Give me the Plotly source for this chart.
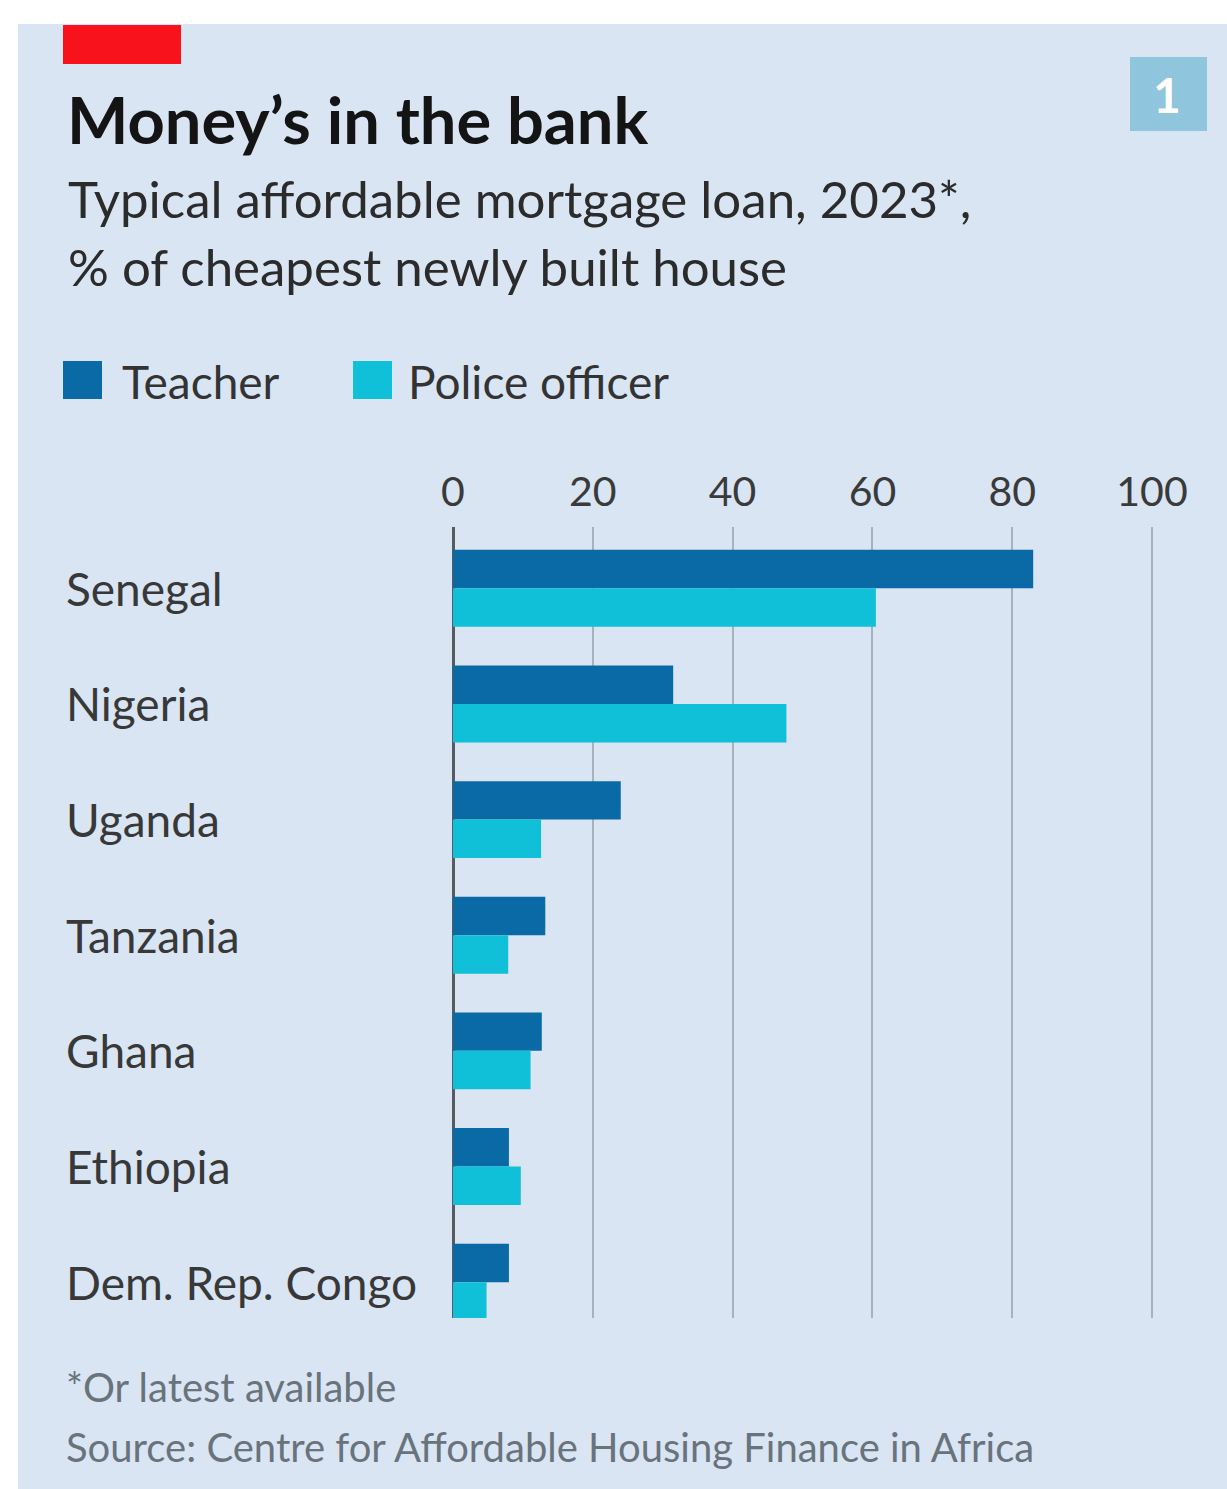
import plotly.graph_objects as go

# Data: typical affordable mortgage loan as % of cheapest newly built house
countries = ["Senegal", "Nigeria", "Uganda", "Tanzania", "Ghana", "Ethiopia", "Dem. Rep. Congo"]
teacher = [83.0, 31.5, 24.0, 13.2, 12.7, 8.0, 8.0]
police = [60.5, 47.7, 12.6, 7.9, 11.1, 9.7, 4.8]
x_ticks = [0, 20, 40, 60, 80, 100]
series_names = ["Teacher", "Police officer"]

# Canvas and plot-area geometry (pixels)
W, H = 1227, 1489
PL, PR, PT, PB = 453, 1159, 527, 1318

TEACHER_COL = "#0a6aa5"
POLICE_COL = "#10c0d8"
BG = "#d9e5f3"
TEXT_FONT = "Lato, Noto Sans, sans-serif"


def px_x(px):
    return (px - PL) / (PR - PL)


def px_y(py):
    return (PB - py) / (PB - PT)


fig = go.Figure()
fig.add_trace(go.Bar(y=countries, x=teacher, orientation="h", name=series_names[0],
                     marker=dict(color=TEACHER_COL, line=dict(width=0)), showlegend=False))
fig.add_trace(go.Bar(y=countries, x=police, orientation="h", name=series_names[1],
                     marker=dict(color=POLICE_COL, line=dict(width=0)), showlegend=False))

shapes = [
    # panel background
    dict(type="rect", xref="paper", yref="paper", x0=px_x(18), x1=px_x(W + 5),
         y0=px_y(H + 5), y1=px_y(24), fillcolor=BG, line=dict(width=0), layer="below"),
    # red tag
    dict(type="rect", xref="paper", yref="paper", x0=px_x(63), x1=px_x(181),
         y0=px_y(64), y1=px_y(25), fillcolor="#f8121b", line=dict(width=0)),
    # chart number badge
    dict(type="rect", xref="paper", yref="paper", x0=px_x(1130), x1=px_x(1207),
         y0=px_y(131), y1=px_y(57), fillcolor="#8fc6dd", line=dict(width=0)),
    # legend swatches
    dict(type="rect", xref="paper", yref="paper", x0=px_x(63), x1=px_x(102),
         y0=px_y(399), y1=px_y(361), fillcolor=TEACHER_COL, line=dict(width=0)),
    dict(type="rect", xref="paper", yref="paper", x0=px_x(353), x1=px_x(392),
         y0=px_y(399), y1=px_y(361), fillcolor=POLICE_COL, line=dict(width=0)),
]

annotations = [
    dict(text="Money’s in the bank", x=px_x(65), y=px_y(119), xref="paper", yref="paper",
         xanchor="left", yanchor="middle", showarrow=False,
         font=dict(family=TEXT_FONT, size=65, color="#141414", weight="bold")),
    dict(text="Typical affordable mortgage loan, 2023*,", x=px_x(66), y=px_y(199),
         xref="paper", yref="paper", xanchor="left", yanchor="middle", showarrow=False,
         font=dict(family=TEXT_FONT, size=51, color="#2b2b2b")),
    dict(text="% of cheapest newly built house", x=px_x(66), y=px_y(266),
         xref="paper", yref="paper", xanchor="left", yanchor="middle", showarrow=False,
         font=dict(family=TEXT_FONT, size=51, color="#2b2b2b")),
    dict(text="1", x=px_x(1167), y=px_y(95), xref="paper", yref="paper",
         xanchor="center", yanchor="middle", showarrow=False,
         font=dict(family=TEXT_FONT, size=48, color="#ffffff", weight="bold")),
    dict(text=series_names[0], x=px_x(120), y=px_y(381), xref="paper", yref="paper",
         xanchor="left", yanchor="middle", showarrow=False,
         font=dict(family=TEXT_FONT, size=46, color="#333333")),
    dict(text=series_names[1], x=px_x(406), y=px_y(381), xref="paper", yref="paper",
         xanchor="left", yanchor="middle", showarrow=False,
         font=dict(family=TEXT_FONT, size=46, color="#333333")),
    dict(text="*Or latest available", x=px_x(64), y=px_y(1387), xref="paper", yref="paper",
         xanchor="left", yanchor="middle", showarrow=False,
         font=dict(family=TEXT_FONT, size=40, color="#69737c")),
    dict(text="Source: Centre for Affordable Housing Finance in Africa", x=px_x(64),
         y=px_y(1447), xref="paper", yref="paper", xanchor="left", yanchor="middle",
         showarrow=False, font=dict(family=TEXT_FONT, size=40, color="#69737c")),
]

# Country labels, left-aligned in the margin
for c in countries:
    annotations.append(dict(text=c, x=px_x(64), y=c, xref="paper", yref="y",
                            xanchor="left", yanchor="middle", showarrow=False,
                            font=dict(family=TEXT_FONT, size=46, color="#383838")))

fig.update_layout(
    width=W, height=H,
    margin=dict(l=PL, r=W - PR, t=PT, b=H - PB, pad=0),
    paper_bgcolor="#ffffff",
    plot_bgcolor="rgba(0,0,0,0)",
    barmode="group", bargap=0.335, bargroupgap=0,
    shapes=shapes, annotations=annotations,
    xaxis=dict(side="top", range=[0, 101], tickvals=x_ticks, ticktext=[str(v) for v in x_ticks],
               showgrid=True, gridcolor="#a7b2bd", gridwidth=2,
               zeroline=True, zerolinecolor="#555b60", zerolinewidth=3,
               showline=False, ticks="", ticklabelstandoff=12,
               tickfont=dict(family=TEXT_FONT, size=41, color="#3a3a3a"), fixedrange=True),
    yaxis=dict(categoryorder="array", categoryarray=countries,
               range=[6.31, -0.53], showticklabels=False, showgrid=False,
               zeroline=False, showline=False, ticks="", fixedrange=True),
)

fig.write_html("out.html")
